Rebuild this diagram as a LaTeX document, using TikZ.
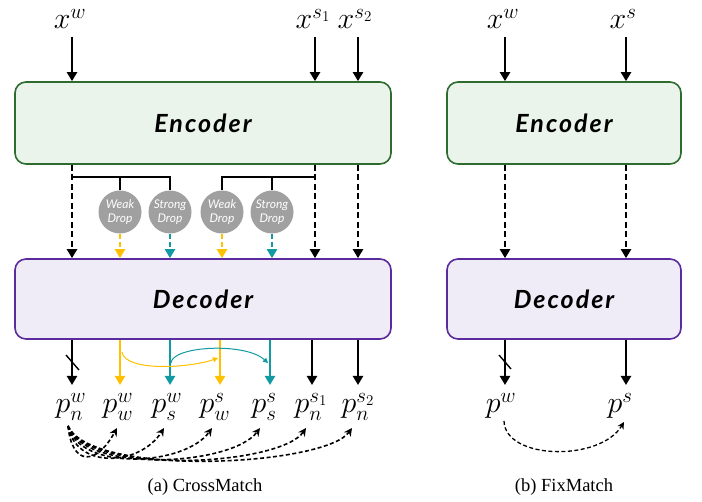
\RequirePackage{fix-cm}
\documentclass[tikz,border=0pt]{standalone}
\usepackage{fontspec}
\setmainfont{Liberation Serif}
\newfontfamily\boxfont[LetterSpace=8]{Lato}
\newfontfamily\dropfont{Lato}
\usetikzlibrary{arrows.meta,calc}
\definecolor{encfill}{HTML}{EBF4EA}
\definecolor{encdraw}{HTML}{2E6B2E}
\definecolor{decfill}{HTML}{EFEBF7}
\definecolor{decdraw}{HTML}{5A2B9E}
\definecolor{ylw}{HTML}{FFC000}
\definecolor{tea}{HTML}{119AA2}
\definecolor{dropgray}{HTML}{A0A0A0}
\begin{document}
\begin{tikzpicture}[x=1pt,y=-1pt,
  encbox/.style={draw=encdraw,fill=encfill,line width=1.6pt,rounded corners=11pt,
    font=\boxfont\bfseries\itshape\fontsize{25}{25}\selectfont},
  decbox/.style={draw=decdraw,fill=decfill,line width=1.6pt,rounded corners=11pt,
    font=\boxfont\bfseries\itshape\fontsize{25}{25}\selectfont},
  lbl/.style={inner sep=0pt,anchor=base,font=\fontsize{30}{30}\selectfont},
  blk/.style={line width=2.2pt,-{Triangle[width=10pt,length=9pt]}},
  dsh/.style={blk,dash pattern=on 6pt off 3.5pt},
  tree/.style={line width=2.2pt},
  dropc/.style={circle,fill=dropgray,minimum size=43pt,inner sep=0pt,text=white,
    align=center,font=\dropfont\itshape\fontsize{12}{13.5}\selectfont},
  thinarr/.style={line width=1pt,-{Triangle[width=5pt,length=5pt]}},
  curv/.style={line width=1.6pt,dash pattern=on 4pt off 2.5pt,-{Stealth[width=8pt,length=8pt]}},
  captxt/.style={font=\fontsize{18.5}{18.5}\selectfont,anchor=base}
]
\useasboundingbox (0,0) rectangle (702,502);

% ---------------- (a) CrossMatch ----------------
\node[encbox,minimum width=376pt,minimum height=82pt] (encA) at (203,123) {Encoder};
\node[decbox,minimum width=376pt,minimum height=80pt] (decA) at (203,299) {Decoder};

\node[lbl] (xw) at (70,29) {$x^{w}$};
\node[lbl] (xs1) at (313,29) {$x^{s_1}$};
\node[lbl] (xs2) at (355,29) {$x^{s_2}$};
\coordinate (xwa) at (72,37);
\coordinate (xs1a) at (315,37);
\coordinate (xs2a) at (358,37);
\draw[blk] (xwa) -- (xwa |- encA.north);
\draw[blk] (xs1a) -- (xs1a |- encA.north);
\draw[blk] (xs2a) -- (xs2a |- encA.north);

% dashed feature paths
\draw[dsh] (xwa |- encA.south) -- (xwa |- decA.north);
\draw[dsh] (xs1a |- encA.south) -- (xs1a |- decA.north);
\draw[dsh] (xs2a |- encA.south) -- (xs2a |- decA.north);

% drop circles
\node[dropc] (d1) at (120,212) {Weak\\Drop};
\node[dropc] (d2) at (170,212) {Strong\\Drop};
\node[dropc] (d3) at (222,212) {Weak\\Drop};
\node[dropc] (d4) at (272,212) {Strong\\Drop};
\coordinate (t1) at (72,177);
\coordinate (t2) at (315,177);
\draw[tree] (t1) -| (d2.north);
\draw[tree] (d1.north) -- (d1.north |- t1);
\draw[tree] (t2) -| (d3.north);
\draw[tree] (d4.north) -- (d4.north |- t2);

\draw[dsh,ylw,dash pattern=on 5pt off 3pt] (d1.south) -- (d1.south |- decA.north);
\draw[dsh,tea,dash pattern=on 5pt off 3pt] (d2.south) -- (d2.south |- decA.north);
\draw[dsh,ylw,dash pattern=on 5pt off 3pt] (d3.south) -- (d3.south |- decA.north);
\draw[dsh,tea,dash pattern=on 5pt off 3pt] (d4.south) -- (d4.south |- decA.north);

% outputs
\node[lbl] (pnw) at (71,413) {$p_n^{w}$};
\node[lbl] (pww) at (118,413) {$p_w^{w}$};
\node[lbl] (psw) at (167,413) {$p_s^{w}$};
\node[lbl] (pws) at (215,413) {$p_w^{s}$};
\node[lbl] (pss) at (264,413) {$p_s^{s}$};
\node[lbl] (pns1) at (311,413) {$p_n^{s_1}$};
\node[lbl] (pns2) at (358,413) {$p_n^{s_2}$};

\coordinate (o1) at (72,385);
\coordinate (o2) at (120,385);
\coordinate (o3) at (170,385);
\coordinate (o4) at (220,385);
\coordinate (o5) at (270,385);
\coordinate (o6) at (312,385);
\coordinate (o7) at (358,385);
\draw[blk] (o1 |- decA.south) -- (o1);
\draw[blk,ylw] (o2 |- decA.south) -- (o2);
\draw[blk,tea] (o3 |- decA.south) -- (o3);
\draw[blk,ylw] (o4 |- decA.south) -- (o4);
\draw[blk,tea] (o5 |- decA.south) -- (o5);
\draw[blk] (o6 |- decA.south) -- (o6);
\draw[blk] (o7 |- decA.south) -- (o7);
\coordinate (sl1) at (66,355);
\coordinate (sl2) at (79,370);
\draw[line width=1.4pt] (sl1) -- (sl2);

% thin cross arrows
\coordinate (ya) at (122,352);
\coordinate (yb) at (218,358);
\draw[thinarr,ylw] (ya) .. controls (125,372) and (190,368) .. (yb);
\coordinate (ta) at (171,363);
\coordinate (tb) at (268,363);
\draw[thinarr,tea] (ta) .. controls (172,346) and (245,342) .. (tb);

% dashed consistency curves
\coordinate (s0) at (68,426);
\coordinate (e1) at (117,428);
\coordinate (e2) at (164,428);
\coordinate (e3) at (212,428);
\coordinate (e4) at (260,428);
\coordinate (e5) at (306,428);
\coordinate (e6) at (352,428);
\draw[curv] (s0) .. controls (72,466) and (96,466) .. (e1);
\draw[curv] (s0) .. controls (76,470) and (140,466) .. (e2);
\draw[curv] (s0) .. controls (80,472) and (185,466) .. (e3);
\draw[curv] (s0) .. controls (84,474) and (232,466) .. (e4);
\draw[curv] (s0) .. controls (88,476) and (280,466) .. (e5);
\draw[curv] (s0) .. controls (92,478) and (325,466) .. (e6);

\node[captxt] (capA) at (205,492) {(a) CrossMatch};

% ---------------- (b) FixMatch ----------------
\node[encbox,minimum width=234pt,minimum height=82pt] (encB) at (564,123) {Encoder};
\node[decbox,minimum width=234pt,minimum height=80pt] (decB) at (564,299) {Decoder};

\node[lbl] (bxw) at (503,29) {$x^{w}$};
\node[lbl] (bxs) at (623,29) {$x^{s}$};
\coordinate (bxa) at (505,37);
\coordinate (bxb) at (626,37);
\draw[blk] (bxa) -- (bxa |- encB.north);
\draw[blk] (bxb) -- (bxb |- encB.north);
\draw[dsh] (bxa |- encB.south) -- (bxa |- decB.north);
\draw[dsh] (bxb |- encB.south) -- (bxb |- decB.north);

\coordinate (bo1) at (505,385);
\coordinate (bo2) at (626,385);
\draw[blk] (bo1 |- decB.south) -- (bo1);
\draw[blk] (bo2 |- decB.south) -- (bo2);
\coordinate (bsl1) at (499,355);
\coordinate (bsl2) at (511,369);
\draw[line width=1.4pt] (bsl1) -- (bsl2);

\node[lbl] (bpw) at (501,413) {$p^{w}$};
\node[lbl] (bps) at (620,413) {$p^{s}$};
\coordinate (bs0) at (504,421);
\coordinate (be0) at (624,422);
\draw[line width=1.3pt,dash pattern=on 4pt off 2.5pt,-{Stealth[width=7pt,length=7pt]}]
  (bs0) .. controls (505,460) and (600,462) .. (be0);

\node[captxt] (capB) at (564,492) {(b) FixMatch};
\end{tikzpicture}
\end{document}
